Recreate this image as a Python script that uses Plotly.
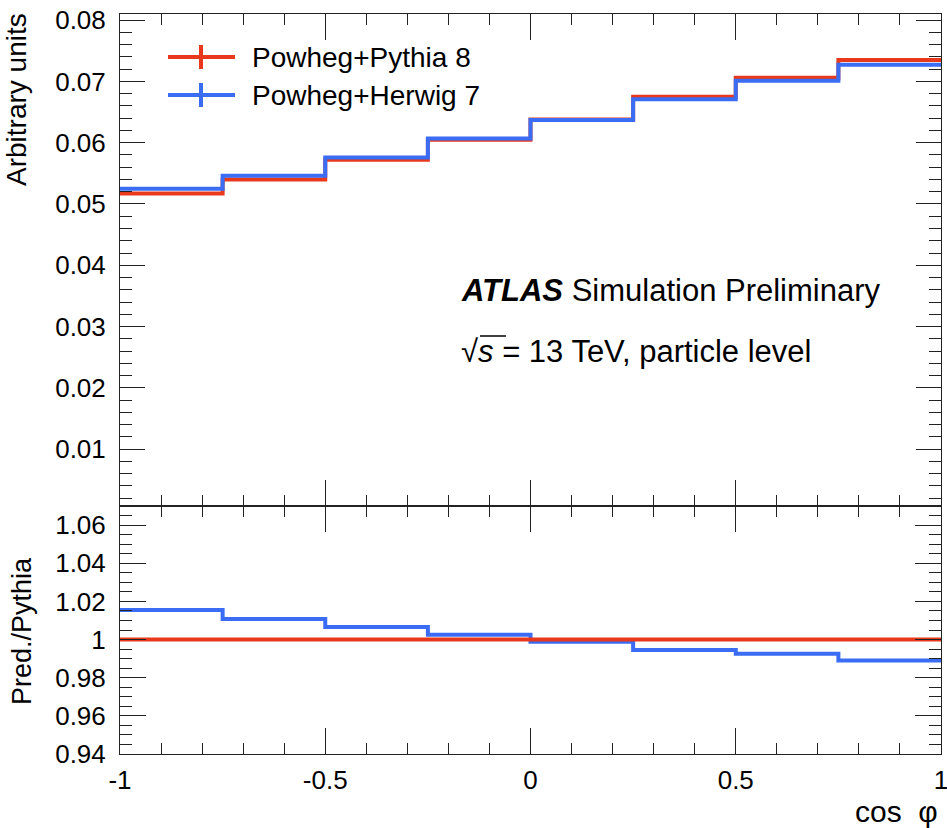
import plotly.graph_objects as go

# cos(phi) binning and normalised distributions
bin_edges = [-1.0, -0.75, -0.5, -0.25, 0.0, 0.25, 0.5, 0.75, 1.0]
pythia8 = [0.0517, 0.0540, 0.0572, 0.0605, 0.0638, 0.0675, 0.0706, 0.0735]
herwig7 = [0.0525, 0.0546, 0.0576, 0.0607, 0.0637, 0.0671, 0.0701, 0.0727]
# ratio to Powheg+Pythia 8
ratio_herwig7 = [1.0155, 1.0108, 1.0066, 1.0025, 0.9988, 0.9945, 0.9926, 0.9890]
ratio_pythia8 = [v / v for v in pythia8]

top_ticks = [0.01, 0.02, 0.03, 0.04, 0.05, 0.06, 0.07, 0.08]
top_labels = ["0.01", "0.02", "0.03", "0.04", "0.05", "0.06", "0.07", "0.08"]
ratio_ticks = [0.94, 0.96, 0.98, 1.00, 1.02, 1.04, 1.06]
ratio_labels = ["0.94", "0.96", "0.98", "1", "1.02", "1.04", "1.06"]
x_ticks = [-1, -0.5, 0, 0.5, 1]
x_labels = ["-1", "-0.5", "0", "0.5", "1"]

RED = "#e8391d"
BLUE = "#3a6cf4"
FONT = "Liberation Sans, Arial, Helvetica, sans-serif"
W, H = 947, 828
ML, MR, MT, MB = 120, 6, 14, 74
PW, PH = W - ML - MR, H - MT - MB


def px(x):
    return (x - ML) / PW


def py(y):
    return (H - MB - y) / PH


def step(vals):
    return bin_edges, list(vals) + [vals[-1]]


fig = go.Figure()
for vals, col, name, ax in [
    (pythia8, RED, "Powheg+Pythia 8", ("x", "y")),
    (herwig7, BLUE, "Powheg+Herwig 7", ("x", "y")),
    (ratio_herwig7, BLUE, "Powheg+Herwig 7", ("x2", "y2")),
    (ratio_pythia8, RED, "Powheg+Pythia 8", ("x2", "y2")),
]:
    xs, ys = step(vals)
    fig.add_trace(go.Scatter(x=xs, y=ys, mode="lines", line=dict(color=col, width=4, shape="hv"),
                             name=name, showlegend=False, xaxis=ax[0], yaxis=ax[1],
                             hoverinfo="skip"))

frame = dict(showline=True, linecolor="#222", linewidth=1, mirror="allticks", ticks="inside",
             tickcolor="#222", tickwidth=1, showgrid=False, zeroline=False,
             ticklabeloverflow="allow", automargin=False,
             tickfont=dict(family=FONT, size=26, color="black"))

fig.update_layout(
    width=W, height=H,
    margin=dict(l=ML, r=MR, t=MT, b=MB, autoexpand=False),
    paper_bgcolor="white", plot_bgcolor="white",
    font=dict(family=FONT, color="black"),
    xaxis=dict(frame, domain=[0, 1], anchor="y", range=[-1, 1], tickvals=x_ticks,
               showticklabels=False, ticklen=26,
               minor=dict(dtick=0.1, tick0=-1, ticklen=11, ticks="inside", tickcolor="#222")),
    yaxis=dict(frame, domain=[0.335, 1], anchor="x", range=[0.0007, 0.081], tickvals=top_ticks,
               ticktext=top_labels, ticklen=25, ticklabelstandoff=8,
               minor=dict(dtick=0.002, tick0=0, ticklen=12, ticks="inside", tickcolor="#222")),
    xaxis2=dict(frame, domain=[0, 1], anchor="y2", matches="x", range=[-1, 1], tickvals=x_ticks,
                ticktext=x_labels, ticklen=26, ticklabelstandoff=3,
                minor=dict(dtick=0.1, tick0=-1, ticklen=11, ticks="inside", tickcolor="#222")),
    yaxis2=dict(frame, domain=[0, 0.335], anchor="x2", range=[0.94, 1.07], tickvals=ratio_ticks,
                ticktext=ratio_labels, ticklen=26, ticklabelstandoff=8,
                minor=dict(dtick=0.005, tick0=0.94, ticklen=12, ticks="inside", tickcolor="#222")),
)

shapes = []
annotations = []
# legend entries: line with vertical error tick
for ypix, col, label in [(57, RED, "Powheg+Pythia 8"), (95, BLUE, "Powheg+Herwig 7")]:
    shapes.append(dict(type="line", xref="paper", yref="paper", x0=px(168), x1=px(235),
                       y0=py(ypix), y1=py(ypix), line=dict(color=col, width=4)))
    shapes.append(dict(type="line", xref="paper", yref="paper", x0=px(201), x1=px(201),
                       y0=py(ypix - 12), y1=py(ypix + 12), line=dict(color=col, width=4)))
    annotations.append(dict(x=px(250), y=py(ypix + 1), xref="paper", yref="paper", text=label,
                            showarrow=False, xanchor="left", yanchor="middle",
                            font=dict(family=FONT, size=28, color="black")))

annotations += [
    dict(x=px(459), y=py(291), xref="paper", yref="paper",
         text="<b><i>ATLAS</i></b> Simulation Preliminary", showarrow=False,
         xanchor="left", yanchor="middle", font=dict(family=FONT, size=31, color="black")),
    dict(x=px(459), y=py(351), xref="paper", yref="paper",
         text="√<i>s</i> = 13 TeV, particle level", showarrow=False,
         xanchor="left", yanchor="middle", font=dict(family=FONT, size=31, color="black")),
    dict(x=px(16), y=py(100), xref="paper", yref="paper", text="Arbitrary units",
         textangle=-90, showarrow=False, xanchor="center", yanchor="middle",
         font=dict(family=FONT, size=28, color="black")),
    dict(x=px(22), y=py(631), xref="paper", yref="paper", text="Pred./Pythia",
         textangle=-90, showarrow=False, xanchor="center", yanchor="middle",
         font=dict(family=FONT, size=27, color="black")),
    dict(x=px(940), y=py(811), xref="paper", yref="paper", text="cos\u00a0\u00a0φ",
         showarrow=False, xanchor="right", yanchor="middle",
         font=dict(family=FONT, size=30, color="black")),
]
# overbar of the square root
shapes.append(dict(type="line", xref="paper", yref="paper", x0=px(480), x1=px(506),
                   y0=py(336), y1=py(336), line=dict(color="black", width=1.5)))

fig.update_layout(shapes=shapes, annotations=annotations)
fig.write_html("out.html")
